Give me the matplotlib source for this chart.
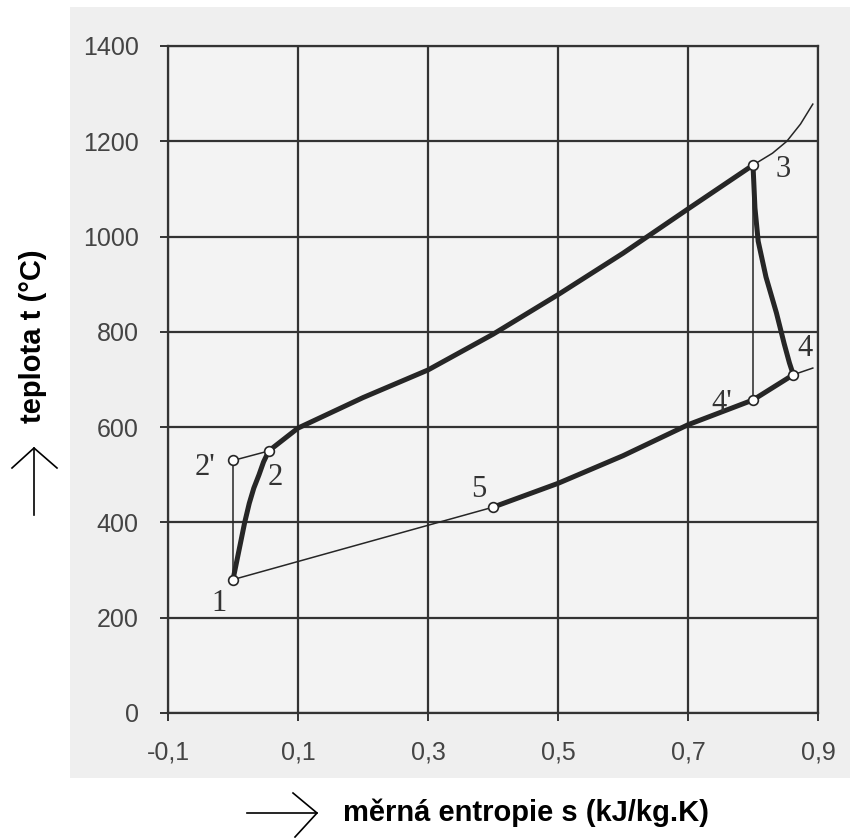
import matplotlib
matplotlib.use("Agg")
import matplotlib.pyplot as plt
from matplotlib.lines import Line2D
from matplotlib.patches import Rectangle

# T-s diagram of the cycle
s_12 = [0.0, 0.006, 0.012, 0.018, 0.025, 0.032, 0.040, 0.047, 0.055]
t_12 = [280, 320, 360, 400, 440, 472, 500, 527, 550]

s_23 = [0.055, 0.1, 0.2, 0.3, 0.4, 0.5, 0.6, 0.7, 0.8]
t_23 = [550, 598, 662, 720, 795, 878, 965, 1058, 1150]
s_3ext = [0.8, 0.83, 0.852, 0.873, 0.892]
t_3ext = [1150, 1175, 1200, 1236, 1278]

s_34 = [0.8, 0.803, 0.808, 0.82, 0.836, 0.848, 0.856, 0.862]
t_34 = [1150, 1060, 990, 915, 840, 775, 735, 710]

s_45 = [0.862, 0.8, 0.7, 0.6, 0.5, 0.4]
t_45 = [710, 657, 605, 540, 482, 432]
s_4ext = [0.862, 0.892]
t_4ext = [710, 724]

s_51 = [0.4, 0.0]
t_51 = [432, 280]

s_11p = [0.0, 0.0]
t_11p = [280, 530]
s_2p2 = [0.0, 0.055]
t_2p2 = [530, 550]
s_34p = [0.8, 0.8]
t_34p = [1150, 657]

pt_names = ["1", "2'", "2", "3", "4", "4'", "5"]
pt_s = [0.0, 0.0, 0.055, 0.8, 0.862, 0.8, 0.4]
pt_t = [280, 530, 550, 1150, 710, 657, 432]
lab_s = [-0.022, -0.043, 0.065, 0.847, 0.88, 0.752, 0.378]
lab_t = [230, 515, 495, 1140, 765, 650, 470]

xticks = [-0.1, 0.1, 0.3, 0.5, 0.7, 0.9]
xlabels = ["-0,1", "0,1", "0,3", "0,5", "0,7", "0,9"]
yticks = [0, 200, 400, 600, 800, 1000, 1200, 1400]

fig = plt.figure(figsize=(8.5, 8.38), dpi=100)
fig.patch.set_facecolor("white")
# scanned page background
fig.add_artist(Rectangle((70 / 850, 1 - 778 / 838), 780 / 850, 771 / 838,
                         transform=fig.transFigure, facecolor="#efefef",
                         edgecolor="none", zorder=0))

ax = fig.add_axes([168 / 850, 1 - 713 / 838, 650 / 850, 667 / 838])
ax.set_facecolor("#f3f3f3")
ax.set_xlim(-0.1, 0.9)
ax.set_ylim(0, 1400)

gc = "#333333"
ax.set_xticks(xticks)
ax.set_xticklabels(xlabels)
ax.set_yticks(yticks)
ax.grid(True, color=gc, linewidth=1.6)
for sp in ax.spines.values():
    sp.set_color(gc)
    sp.set_linewidth(1.6)
ax.tick_params(direction="inout", length=12, width=1.4, color=gc,
               labelsize=18, labelcolor="#444444")
ax.tick_params(axis="y", pad=15)
ax.tick_params(axis="x", pad=14)
for lab in ax.get_xticklabels() + ax.get_yticklabels():
    lab.set_fontfamily("Liberation Sans")

lc = "#262626"
thick = dict(color=lc, linewidth=3.6, solid_capstyle="round",
             solid_joinstyle="round", zorder=3)
thin = dict(color=lc, linewidth=1.1, zorder=3, clip_on=False)
ax.plot(s_12, t_12, **thick)
ax.plot(s_23, t_23, **thick)
ax.plot(s_34, t_34, **thick)
ax.plot(s_45, t_45, **thick)
ax.plot(s_3ext, t_3ext, **thin)
ax.plot(s_4ext, t_4ext, **thin)
ax.plot(s_51, t_51, **thin)
ax.plot(s_11p, t_11p, **thin)
ax.plot(s_2p2, t_2p2, **thin)
ax.plot(s_34p, t_34p, **thin)
ax.plot(pt_s, pt_t, linestyle="none", marker="o", markersize=7,
        markerfacecolor="white", markeredgecolor=lc, markeredgewidth=1.2,
        zorder=4)

for name, x, y in zip(pt_names, lab_s, lab_t):
    ax.text(x, y, name, fontsize=22, family="Liberation Serif", color="#333333",
            ha="center", va="center", zorder=5)

# axis titles with hand-drawn style arrows
fig.text(343 / 850, 1 - 813 / 838, "měrná entropie s (kJ/kg.K)",
         fontsize=21, fontweight="bold", family="Liberation Sans",
         ha="left", va="center")
fig.text(33 / 850, 1 - 336 / 838, "teplota t (°C)", rotation=90,
         fontsize=21, fontweight="bold", family="Liberation Sans",
         ha="center", va="center")

def fig_line(xs, ys):
    fig.add_artist(Line2D([x / 850 for x in xs], [1 - y / 838 for y in ys],
                          transform=fig.transFigure, color="black",
                          linewidth=1.2))

fig_line([247, 317], [813, 813])
fig_line([293, 317, 295], [793, 813, 837])
fig_line([34, 34], [515, 448])
fig_line([12, 34, 57], [468, 448, 468])

fig.savefig("out.png", dpi=100)
